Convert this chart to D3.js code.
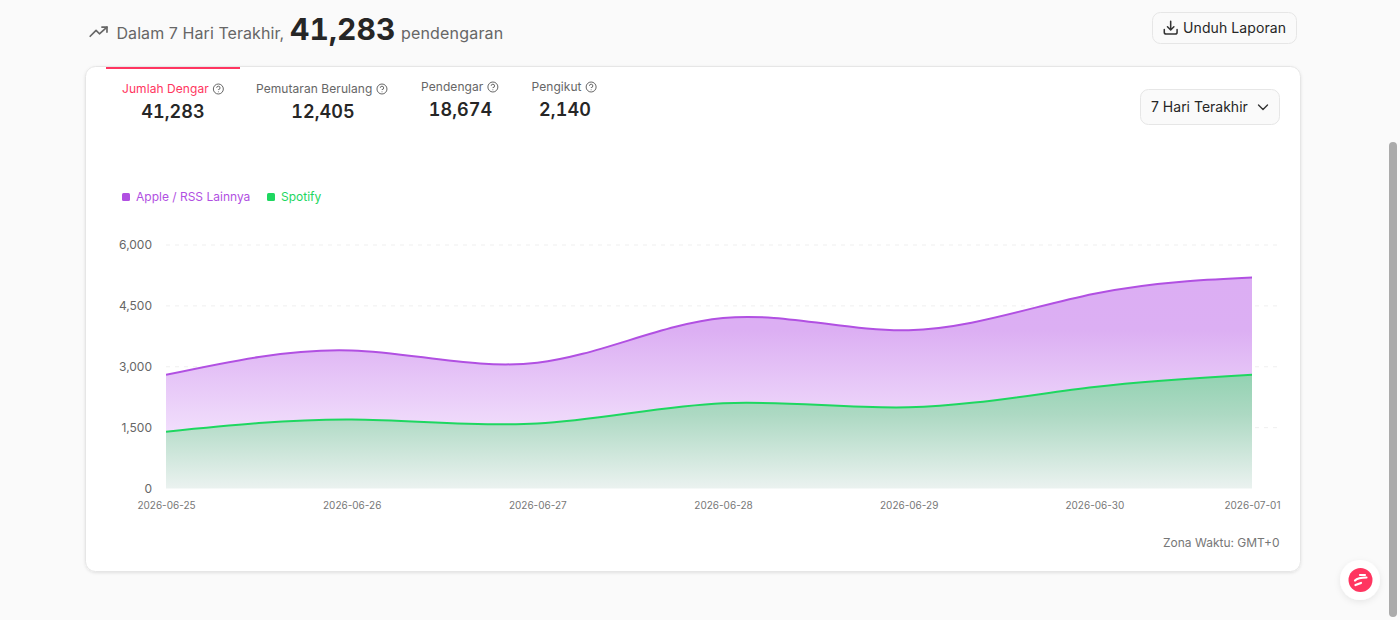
<!DOCTYPE html>
<html>
<head>
<meta charset="utf-8">
<script src="https://cdn.jsdelivr.net/npm/d3@7"></script>
<style>
  html, body { margin: 0; padding: 0; background: #fafafa; overflow: hidden; }
  svg { display: block; font-family: Inter, "Noto Sans", sans-serif; letter-spacing: 0.07px; }
  .num { font-variant-numeric: tabular-nums; }
  .axis text { font-family: Inter, "Noto Sans", sans-serif; letter-spacing: 0; }
</style>
</head>
<body>
<div id="chart-area"></div>
<script>
// chart data
const dates = ['2026-06-25', '2026-06-26', '2026-06-27', '2026-06-28', '2026-06-29', '2026-06-30', '2026-07-01'];
const spotify = [1400, 1700, 1600, 2100, 2000, 2500, 2840];
const apple = [1400, 1700, 1500, 2100, 1900, 2300, 2390];
const yTicks = [0, 1500, 3000, 4500, 6000];

// metric tabs
const tabNames = ['Jumlah Dengar', 'Pemutaran Berulang', 'Pendengar', 'Pengikut'];
const tabValues = ['41,283', '12,405', '18,674', '2,140'];
const tabX = [122, 256, 421, 531.5];
const tabY = [93, 93, 91, 91];
const tabCenter = [173, 323, 460.5, 565];

const seriesNames = ['Apple / RSS Lainnya', 'Spotify'];
const purple = '#b150e2';
const green = '#1ed760';
const red = '#ff3560';

const svg = d3.select('#chart-area').append('svg')
  .attr('width', 1400)
  .attr('height', 620);

const defs = svg.append('defs');

const cardShadow = defs.append('filter').attr('id', 'card-shadow')
  .attr('x', '-5%').attr('y', '-5%').attr('width', '110%').attr('height', '110%');
cardShadow.append('feDropShadow')
  .attr('dx', 0).attr('dy', 1).attr('stdDeviation', 1.5)
  .attr('flood-color', '#000').attr('flood-opacity', 0.1);

const logoShadow = defs.append('filter').attr('id', 'logo-shadow')
  .attr('x', '-40%').attr('y', '-40%').attr('width', '180%').attr('height', '180%');
logoShadow.append('feDropShadow')
  .attr('dx', 0).attr('dy', 2).attr('stdDeviation', 3)
  .attr('flood-color', '#000').attr('flood-opacity', 0.08);

// card
svg.append('rect')
  .attr('x', 85.5).attr('y', 66.5)
  .attr('width', 1215).attr('height', 505)
  .attr('rx', 10)
  .attr('fill', '#fff')
  .attr('stroke', '#e6e6e6')
  .attr('filter', 'url(#card-shadow)');

// header
const trend = svg.append('g')
  .attr('transform', 'translate(88.5, 22) scale(0.84)')
  .attr('fill', 'none')
  .attr('stroke', '#666')
  .attr('stroke-width', 2)
  .attr('stroke-linecap', 'round')
  .attr('stroke-linejoin', 'round');
trend.append('path').attr('d', 'M2 17 L9 10 L13 14 L22 6');
trend.append('path').attr('d', 'M16 6 L22 6 L22 12');

svg.append('text').attr('x', 116.5).attr('y', 39)
  .attr('font-size', 16).attr('fill', '#666')
  .text('Dalam 7 Hari Terakhir,');
svg.append('text').attr('x', 290).attr('y', 40)
  .attr('class', 'num')
  .attr('font-size', 30).attr('font-weight', 700).attr('fill', '#262626')
  .text('41,283');
svg.append('text').attr('x', 401).attr('y', 39)
  .attr('font-size', 16).attr('fill', '#666')
  .style('letter-spacing', '0.18px')
  .text('pendengaran');

// download button
svg.append('rect')
  .attr('x', 1152.5).attr('y', 12.5)
  .attr('width', 144).attr('height', 31)
  .attr('rx', 8)
  .attr('fill', '#fafafa')
  .attr('stroke', '#e6e6e6');
const dl = svg.append('g')
  .attr('transform', 'translate(1163, 20) scale(0.64)')
  .attr('fill', 'none')
  .attr('stroke', '#333')
  .attr('stroke-width', 2.4)
  .attr('stroke-linecap', 'round')
  .attr('stroke-linejoin', 'round');
dl.append('path').attr('d', 'M12 2 L12 15 M7 10.5 L12 15.5 L17 10.5');
dl.append('path').attr('d', 'M2 15 L2 19 Q2 22 5 22 L19 22 Q22 22 22 19 L22 15');
svg.append('text').attr('x', 1183).attr('y', 33)
  .attr('font-size', 14).attr('fill', '#262626')
  .style('letter-spacing', '0.1px')
  .text('Unduh Laporan');

// tabs
svg.append('rect')
  .attr('x', 106).attr('y', 67)
  .attr('width', 134).attr('height', 2)
  .attr('fill', red);

tabNames.forEach((name, i) => {
  const label = svg.append('text')
    .attr('x', tabX[i]).attr('y', tabY[i])
    .attr('font-size', 12)
    .attr('fill', i === 0 ? red : '#666')
    .text(name);
  const helpX = tabX[i] + label.node().getComputedTextLength() + 9.5;
  const help = svg.append('g')
    .attr('transform', `translate(${helpX}, ${tabY[i] - 4})`)
    .attr('fill', 'none')
    .attr('stroke', '#666')
    .attr('stroke-width', 1);
  help.append('circle').attr('r', 5);
  help.append('path').attr('d', 'M-1.7 -1.2 A1.7 1.7 0 1 1 0 0.6 L0 1');
  help.append('circle').attr('cy', 2.7).attr('r', 0.5).attr('fill', '#666').attr('stroke', 'none');

  svg.append('text')
    .attr('class', 'num')
    .attr('x', tabCenter[i]).attr('y', tabY[i] + 24.5)
    .attr('text-anchor', 'middle')
    .attr('font-size', 18)
    .attr('font-weight', 600)
    .attr('fill', '#262626')
    .text(tabValues[i]);
});

// range select
svg.append('rect')
  .attr('x', 1140.5).attr('y', 89.5)
  .attr('width', 139).attr('height', 35)
  .attr('rx', 8)
  .attr('fill', '#fafafa')
  .attr('stroke', '#e6e6e6');
svg.append('text').attr('x', 1151).attr('y', 112)
  .attr('font-size', 14).attr('fill', '#262626')
  .style('letter-spacing', '0')
  .text('7 Hari Terakhir');
svg.append('path')
  .attr('d', 'M1258.5 105 L1263 109.5 L1267.5 105')
  .attr('fill', 'none')
  .attr('stroke', '#333')
  .attr('stroke-width', 1.4)
  .attr('stroke-linecap', 'round')
  .attr('stroke-linejoin', 'round');

// legend
const legendX = [122, 267];
const legendColors = [purple, green];
seriesNames.forEach((name, i) => {
  svg.append('rect')
    .attr('x', legendX[i]).attr('y', 193)
    .attr('width', 8).attr('height', 8)
    .attr('rx', 1.5)
    .attr('fill', legendColors[i]);
  svg.append('text')
    .attr('x', legendX[i] + 14).attr('y', 201)
    .attr('font-size', 12)
    .attr('fill', legendColors[i])
    .style('letter-spacing', '0')
    .text(name);
});

// scales
const x = d3.scalePoint().domain(dates).range([166, 1280]);
const y = d3.scaleLinear().domain([0, 6000]).range([488.5, 245]);

// grid
svg.append('g')
  .selectAll('line')
  .data(yTicks.slice(1))
  .enter()
  .append('line')
    .attr('x1', 166)
    .attr('x2', 1280)
    .attr('y1', d => y(d))
    .attr('y2', d => y(d))
    .attr('stroke', '#efefef')
    .attr('stroke-dasharray', '4 5');

// stacked series
const rows = dates.map((d, i) => ({ date: d, spotify: spotify[i], apple: apple[i] }));
const stacked = d3.stack().keys(['spotify', 'apple'])(rows);

const addGradient = (id, stops, top) => {
  const g = defs.append('linearGradient')
    .attr('id', id)
    .attr('gradientUnits', 'userSpaceOnUse')
    .attr('x1', 0).attr('x2', 0)
    .attr('y1', y(top)).attr('y2', y(0));
  stops.forEach(s => g.append('stop').attr('offset', s[0]).attr('stop-color', s[1]));
};
addGradient('fill-apple', [[0, '#dcaef3'], [0.25, '#dcaff3'], [0.75, '#f2e0fc'], [1, '#f6ecfd']], 5200);
addGradient('fill-spotify', [[0, '#93d2b2'], [0.35, '#add9c3'], [1, '#ebf2f0']], 2800);

// the reveal stops short of the last date in the reference
defs.append('clipPath').attr('id', 'reveal')
  .append('rect')
    .attr('x', 166).attr('y', 200)
    .attr('width', 1086).attr('height', 300);

const curve = d3.curveNatural;
const area = d3.area()
  .x(d => x(d.data.date))
  .y0(d => y(d[0]))
  .y1(d => y(d[1]))
  .curve(curve);
const line = d3.line()
  .x(d => x(d.data.date))
  .y(d => y(d[1]))
  .curve(curve);

const fills = ['url(#fill-spotify)', 'url(#fill-apple)'];
const strokes = [green, purple];
const plot = svg.append('g').attr('clip-path', 'url(#reveal)');

plot.append('g').selectAll('path')
  .data(stacked)
  .enter()
  .append('path')
    .attr('d', area)
    .attr('fill', (d, i) => fills[i]);

plot.append('g').selectAll('path')
  .data(stacked)
  .enter()
  .append('path')
    .attr('d', line)
    .attr('fill', 'none')
    .attr('stroke', (d, i) => strokes[i])
    .attr('stroke-width', 2);

// axes
const yAxisCall = d3.axisLeft(y)
  .tickValues(yTicks)
  .tickFormat(d3.format(','))
  .tickSize(0)
  .tickPadding(0);
svg.append('g')
  .attr('class', 'axis')
  .attr('transform', 'translate(152, 0)')
  .call(yAxisCall)
  .call(g => g.select('.domain').remove())
  .selectAll('text')
    .attr('font-size', 12)
    .attr('fill', '#666');

const xAxisCall = d3.axisBottom(x).tickSize(0).tickPadding(0);
svg.append('g')
  .attr('class', 'axis')
  .attr('transform', 'translate(0, 502)')
  .call(xAxisCall)
  .call(g => g.select('.domain').remove())
  .selectAll('text')
    .attr('font-size', 10)
    .attr('fill', '#777')
    .attr('text-anchor', (d, i) => i === dates.length - 1 ? 'end' : 'middle');

svg.append('text')
  .attr('x', 1279.5).attr('y', 547)
  .attr('text-anchor', 'end')
  .attr('font-size', 12)
  .attr('fill', '#777')
  .style('letter-spacing', '0')
  .text('Zona Waktu: GMT+0');

// floating logo
svg.append('circle')
  .attr('cx', 1360).attr('cy', 580).attr('r', 20)
  .attr('fill', '#fff')
  .attr('filter', 'url(#logo-shadow)');
svg.append('circle')
  .attr('cx', 1360.5).attr('cy', 580).attr('r', 12)
  .attr('fill', red);
svg.append('path')
  .attr('d', 'M1355 580.5 Q1358 577.5 1366.5 577.5 M1360 575 L1365 575 M1355.5 585 L1361 583')
  .attr('fill', 'none')
  .attr('stroke', '#fff')
  .attr('stroke-width', 2.2)
  .attr('stroke-linecap', 'round');

// scrollbar
svg.append('rect')
  .attr('x', 1389).attr('y', 142)
  .attr('width', 8).attr('height', 475)
  .attr('rx', 4)
  .attr('fill', '#ababab');
</script>
</body>
</html>
